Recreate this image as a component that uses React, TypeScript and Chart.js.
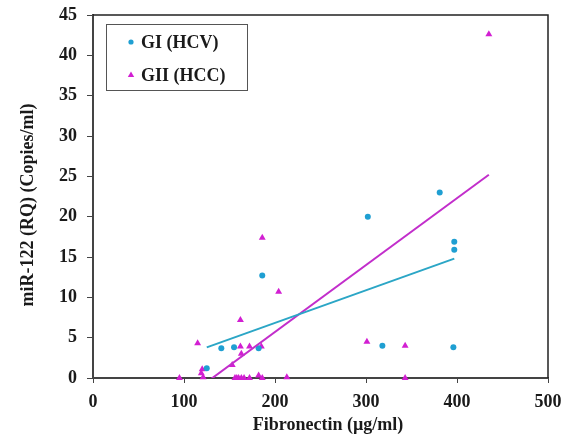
import React, { useEffect, useRef } from "react";
import { Chart, registerables } from "chart.js";

Chart.register(...registerables);

const giX = [125, 141, 155, 182, 186, 302, 381, 397, 397, 318, 396];
const giY = [1.2, 3.7, 3.8, 3.7, 12.7, 20.0, 23.0, 16.9, 15.9, 4.0, 3.8];

const giiX = [95, 115, 120, 119, 121, 153, 162, 162, 163, 172, 185, 204, 186, 301, 343, 343, 435, 156, 158, 160, 163, 166, 172, 182, 186, 213];
const giiY = [0, 4.3, 1.1, 0.6, 0.1, 1.6, 7.2, 3.9, 3.0, 3.9, 3.9, 10.7, 17.4, 4.5, 4.0, 0, 42.6, 0, 0, 0, 0, 0, 0, 0.3, 0, 0.1];

const giTrendX = [125, 397];
const giTrendY = [3.8, 14.8];
const giiTrendX = [95, 435];
const giiTrendY = [-3.0, 25.2];

const seriesNames = ["GI (HCV)", "GII (HCC)"];
const xTitle = "Fibronectin (µg/ml)";
const yTitle = "miR-122 (RQ) (Copies/ml)";

const BLUE = "#1f9fd2";
const BLUE_LINE = "#2ba6c6";
const MAG = "#d21fd2";
const MAG_LINE = "#c22ecb";
const FONT = "'Liberation Serif', 'Times New Roman', serif";

const pts = (xs: number[], ys: number[]) => xs.map((x, i) => ({ x, y: ys[i] }));

const decorPlugin = {
  id: "decor",
  afterDraw(chart: any) {
    const { ctx, chartArea } = chart;
    const { left, right, top, bottom } = chartArea;
    ctx.save();
    ctx.strokeStyle = "#222";
    ctx.lineWidth = 1.5;
    ctx.beginPath();
    ctx.moveTo(left, top);
    ctx.lineTo(right, top);
    ctx.lineTo(right, bottom);
    ctx.stroke();

    ctx.fillStyle = "#1a1a1a";
    ctx.font = `bold 18px ${FONT}`;
    ctx.textAlign = "center";
    ctx.textBaseline = "middle";
    ctx.fillText(xTitle, 328, 425);
    ctx.save();
    ctx.translate(28, 205);
    ctx.rotate(-Math.PI / 2);
    ctx.fillText(yTitle, 0, 0);
    ctx.restore();

    const lx = 106, ly = 24, lw = 141, lh = 66;
    ctx.fillStyle = "#fff";
    ctx.fillRect(lx, ly, lw, lh);
    ctx.strokeStyle = "#555";
    ctx.lineWidth = 1;
    ctx.strokeRect(lx + 0.5, ly + 0.5, lw, lh);
    ctx.fillStyle = BLUE;
    ctx.beginPath();
    ctx.arc(131, 42, 2.6, 0, Math.PI * 2);
    ctx.fill();
    ctx.fillStyle = MAG;
    ctx.beginPath();
    ctx.moveTo(131, 71.5);
    ctx.lineTo(134.2, 77);
    ctx.lineTo(127.8, 77);
    ctx.closePath();
    ctx.fill();
    ctx.fillStyle = "#1a1a1a";
    ctx.font = `bold 18px ${FONT}`;
    ctx.textAlign = "left";
    ctx.fillText(seriesNames[0], 141, 43);
    ctx.fillText(seriesNames[1], 141, 76);
    ctx.restore();
  },
};

export default function App() {
  const ref = useRef<HTMLCanvasElement | null>(null);
  useEffect(() => {
    if (!ref.current) return;
    const chart = new Chart(ref.current, {
      type: "scatter",
      data: {
        datasets: [
          {
            label: seriesNames[0] + " trend",
            data: pts(giTrendX, giTrendY),
            showLine: true,
            borderColor: BLUE_LINE,
            borderWidth: 2,
            pointRadius: 0,
            clip: 0,
          } as any,
          {
            label: seriesNames[1] + " trend",
            data: pts(giiTrendX, giiTrendY),
            showLine: true,
            borderColor: MAG_LINE,
            borderWidth: 2,
            pointRadius: 0,
            clip: 0,
          } as any,
          {
            label: seriesNames[0],
            data: pts(giX, giY),
            backgroundColor: BLUE,
            borderColor: BLUE,
            pointStyle: "circle",
            pointRadius: 3,
            borderWidth: 0,
            clip: false,
          } as any,
          {
            label: seriesNames[1],
            data: pts(giiX, giiY),
            backgroundColor: MAG,
            borderColor: MAG,
            pointStyle: "triangle",
            pointRadius: 4,
            borderWidth: 0,
            clip: false,
          } as any,
        ],
      },
      options: {
        animation: false,
        responsive: false,
        layout: { padding: { top: 15, right: 28, left: 0, bottom: 0 } },
        plugins: { legend: { display: false }, tooltip: { enabled: false } },
        scales: {
          x: {
            type: "linear",
            min: 0,
            max: 500,
            ticks: {
              stepSize: 100,
              color: "#1a1a1a",
              font: { family: FONT, size: 18, weight: "bold" },
              padding: 9,
              maxRotation: 0,
            },
            grid: { drawOnChartArea: false, drawTicks: true, tickLength: 5, tickColor: "#444" },
            border: { display: true, color: "#444", width: 2 },
            afterFit: (s: any) => {
              s.height = 59;
              s.paddingLeft = 0;
              s.paddingRight = 0;
            },
          },
          y: {
            type: "linear",
            min: 0,
            max: 45,
            ticks: {
              stepSize: 5,
              color: "#1a1a1a",
              font: { family: FONT, size: 18, weight: "bold" },
              padding: 10,
            },
            grid: { drawOnChartArea: false, drawTicks: true, tickLength: 6, tickColor: "#444" },
            border: { display: true, color: "#444", width: 2 },
            afterFit: (s: any) => {
              s.width = 93;
              s.paddingTop = 0;
              s.paddingBottom = 0;
            },
          },
        },
      } as any,
      plugins: [decorPlugin],
    });
    return () => chart.destroy();
  }, []);
  return (
    <div style={{ position: "absolute", left: 0, top: 0, width: 576, height: 437, background: "#fff" }}>
      <canvas ref={ref} width={576} height={437} style={{ display: "block" }} />
    </div>
  );
}
